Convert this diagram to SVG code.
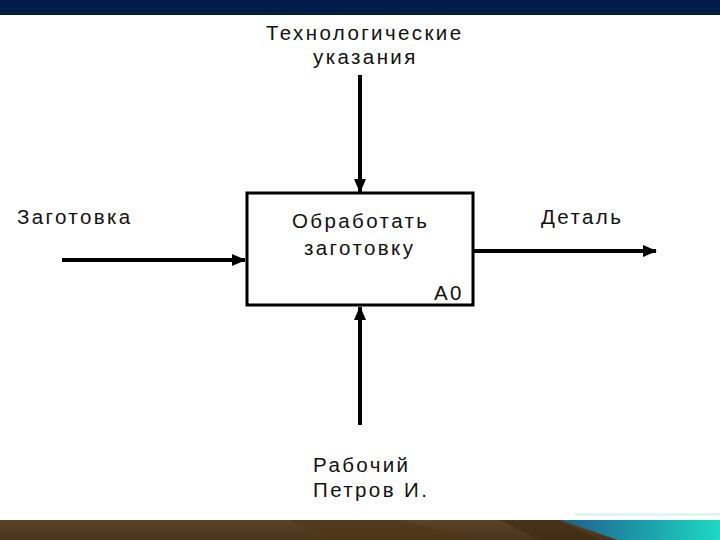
<svg xmlns="http://www.w3.org/2000/svg" width="720" height="540" viewBox="0 0 720 540">
<defs>
<style>
.t{font-family:"Liberation Sans",Arial,sans-serif;font-size:20.5px;letter-spacing:2.4px;fill:#111}
.c{stroke:#000;stroke-width:4;fill:none}
</style>
<marker id="ah" viewBox="0 0 14 12" refX="13" refY="6" markerWidth="14" markerHeight="12" markerUnits="userSpaceOnUse" orient="auto">
<path d="M0,0 L14,6 L0,12 Z" fill="#000"/>
</marker>
<linearGradient id="teal" x1="0" y1="0" x2="1" y2="0">
<stop offset="0" stop-color="#1b5e8e"/>
<stop offset="1" stop-color="#1fd8c4"/>
</linearGradient>
<linearGradient id="brown" x1="0" y1="0" x2="0" y2="1">
<stop offset="0" stop-color="#5a4428"/>
<stop offset="1" stop-color="#4a3419"/>
</linearGradient>
</defs>
<rect width="720" height="540" fill="#fff"/>
<rect x="0" y="0" width="720" height="13" fill="#001a4a"/>
<rect x="0" y="12" width="720" height="3" fill="#00213a"/>
<rect x="0" y="520" width="720" height="20" fill="url(#brown)"/>
<polygon points="290,520 400,520 470,540 330,540" fill="#4e3718" opacity="0.6"/>
<polygon points="500,520 560,520 600,540 540,540" fill="#3e2a12" opacity="0.6"/>
<polygon points="560,520 720,520 720,540 618,540" fill="url(#teal)"/>
<rect x="575" y="513" width="145" height="3" fill="#dff6f2"/>
<g id="connectors">
<line class="c" x1="360" y1="75" x2="360" y2="192" marker-end="url(#ah)"/>
<line class="c" x1="62" y1="260" x2="245" y2="260" marker-end="url(#ah)"/>
<line class="c" x1="474" y1="251" x2="656" y2="251" marker-end="url(#ah)"/>
<line class="c" x1="360" y1="425" x2="360" y2="307" marker-end="url(#ah)"/>
</g>
<g id="A0">
<rect x="247" y="193" width="226" height="112" fill="#fff" stroke="#000" stroke-width="3"/>
<text class="t" x="292" y="228">Обработать</text>
<text class="t" x="304" y="255">заготовку</text>
<text class="t" x="434" y="300">A0</text>
</g>
<g id="control">
<text class="t" x="266" y="40">Технологические</text>
<text class="t" x="313" y="64">указания</text>
</g>
<g id="input">
<text class="t" x="17" y="224">Заготовка</text>
</g>
<g id="output">
<text class="t" x="541" y="224">Деталь</text>
</g>
<g id="mechanism">
<text class="t" x="313" y="472">Рабочий</text>
<text class="t" x="313" y="497">Петров И.</text>
</g>
</svg>
